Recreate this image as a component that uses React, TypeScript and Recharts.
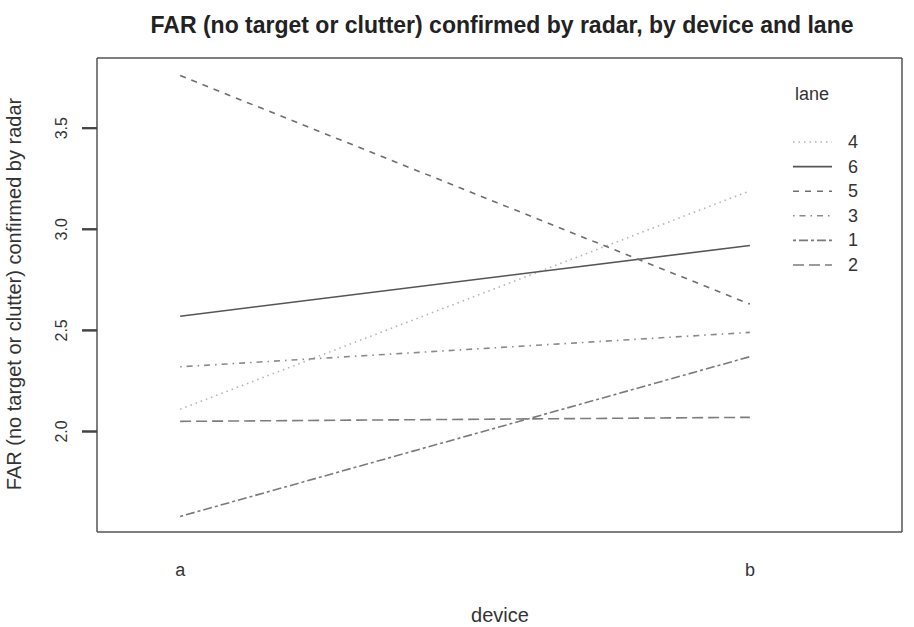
import React from "react";
import {
  LineChart,
  Line,
  XAxis,
  YAxis,
} from "recharts";

const devices = ["a", "b"];
const lane1 = [1.58, 2.37];
const lane2 = [2.05, 2.07];
const lane3 = [2.32, 2.49];
const lane4 = [2.11, 3.19];
const lane5 = [3.76, 2.63];
const lane6 = [2.57, 2.92];
const yTicks = [2.0, 2.5, 3.0, 3.5];

const data = devices.map((d, i) => ({
  pos: i + 1,
  device: d,
  lane1: lane1[i],
  lane2: lane2[i],
  lane3: lane3[i],
  lane4: lane4[i],
  lane5: lane5[i],
  lane6: lane6[i],
}));

// legend order as in the original
const series = [
  { key: "lane4", name: "4", color: "#b4b4b4", dash: "1.5 4" },
  { key: "lane6", name: "6", color: "#555555", dash: "" },
  { key: "lane5", name: "5", color: "#6e6e6e", dash: "6 6" },
  { key: "lane3", name: "3", color: "#8a8a8a", dash: "1.5 5 6 5" },
  { key: "lane1", name: "1", color: "#7a7a7a", dash: "3 3 9 3" },
  { key: "lane2", name: "2", color: "#7c7c7c", dash: "11 5" },
];

const font = "'Liberation Sans', Arial, sans-serif";
const xDomain = [0.854, 2.267];
const yDomain = [1.503, 3.847];
const frame = { stroke: "#555", strokeWidth: 1.5 };

// y tick: outward tick mark plus a rotated label, like base R
function YTick({ x, y, payload }: any) {
  const axisX = x + 17; // x arrives as tickSize + tickMargin left of the axis
  const cx = axisX - 35;
  return (
    <g>
      <line x1={axisX - 15} x2={axisX} y1={y} y2={y} stroke="#444" strokeWidth={2} />
      <text
        x={cx}
        y={y}
        transform={`rotate(-90, ${cx}, ${y})`}
        textAnchor="middle"
        dominantBaseline="central"
        fontSize={16}
        fill="#333"
        fontFamily={font}
      >
        {payload.value.toFixed(1)}
      </text>
    </g>
  );
}

function XTick({ x, y, payload }: any) {
  return (
    <text
      x={x}
      y={y + 30}
      textAnchor="middle"
      dominantBaseline="central"
      fontSize={18}
      fill="#333"
      fontFamily={font}
    >
      {devices[payload.value - 1]}
    </text>
  );
}

function LaneLegend() {
  return (
    <svg
      width={110}
      height={200}
      style={{ position: "absolute", left: 780, top: 84, overflow: "visible" }}
    >
      <text x={15} y={16} fontSize={18} fill="#333" fontFamily={font}>
        lane
      </text>
      {series.map((s, i) => {
        const yy = 58 + i * 24.6;
        return (
          <g key={s.key}>
            <line
              x1={13}
              x2={52}
              y1={yy}
              y2={yy}
              stroke={s.color}
              strokeWidth={1.6}
              strokeDasharray={s.dash || undefined}
            />
            <text
              x={68}
              y={yy}
              dominantBaseline="central"
              fontSize={18}
              fill="#333"
              fontFamily={font}
            >
              {s.name}
            </text>
          </g>
        );
      })}
    </svg>
  );
}

export default function App() {
  return (
    <div
      style={{
        position: "absolute",
        left: 0,
        top: 0,
        width: 914,
        height: 627,
        background: "#fff",
        fontFamily: font,
      }}
    >
      <div
        style={{
          position: "absolute",
          left: 0,
          width: 1004,
          top: 12,
          textAlign: "center",
          fontSize: 23,
          fontWeight: "bold",
          color: "#222",
          whiteSpace: "nowrap",
        }}
      >
        FAR (no target or clutter) confirmed by radar, by device and lane
      </div>
      <div
        style={{
          position: "absolute",
          left: 0,
          width: 1000,
          top: 604,
          textAlign: "center",
          fontSize: 20,
          color: "#333",
        }}
      >
        device
      </div>
      <div
        style={{
          position: "absolute",
          left: 14,
          top: 294,
          transform: "translate(-50%, -50%) rotate(-90deg)",
          whiteSpace: "nowrap",
          fontSize: 20,
          color: "#333",
        }}
      >
        FAR (no target or clutter) confirmed by radar
      </div>
      <LineChart
        width={914}
        height={627}
        data={data}
        margin={{ top: 57, right: 11, bottom: 65, left: 37 }}
        style={{ position: "absolute", left: 0, top: 0 }}
      >
        <XAxis
          dataKey="pos"
          type="number"
          domain={xDomain}
          ticks={[1, 2]}
          allowDataOverflow
          tick={<XTick />}
          tickLine={false}
          axisLine={frame}
          height={30}
        />
        <XAxis
          xAxisId="top"
          orientation="top"
          dataKey="pos"
          type="number"
          domain={xDomain}
          allowDataOverflow
          tick={false}
          tickLine={false}
          axisLine={frame}
          height={1}
        />
        <YAxis
          type="number"
          domain={yDomain}
          ticks={yTicks}
          allowDataOverflow
          tick={<YTick />}
          tickSize={15}
          tickMargin={2}
          tickLine={{ stroke: "#444", strokeWidth: 2 }}
          axisLine={frame}
          width={60}
        />
        <YAxis
          yAxisId="right"
          orientation="right"
          type="number"
          domain={yDomain}
          allowDataOverflow
          tick={false}
          tickLine={false}
          axisLine={frame}
          width={1}
        />
        {series.map((s) => (
          <Line
            key={s.key}
            dataKey={s.key}
            name={s.name}
            stroke={s.color}
            strokeWidth={1.6}
            strokeDasharray={s.dash || undefined}
            dot={false}
            activeDot={false}
            type="linear"
            isAnimationActive={false}
          />
        ))}
      </LineChart>
      <LaneLegend />
    </div>
  );
}
